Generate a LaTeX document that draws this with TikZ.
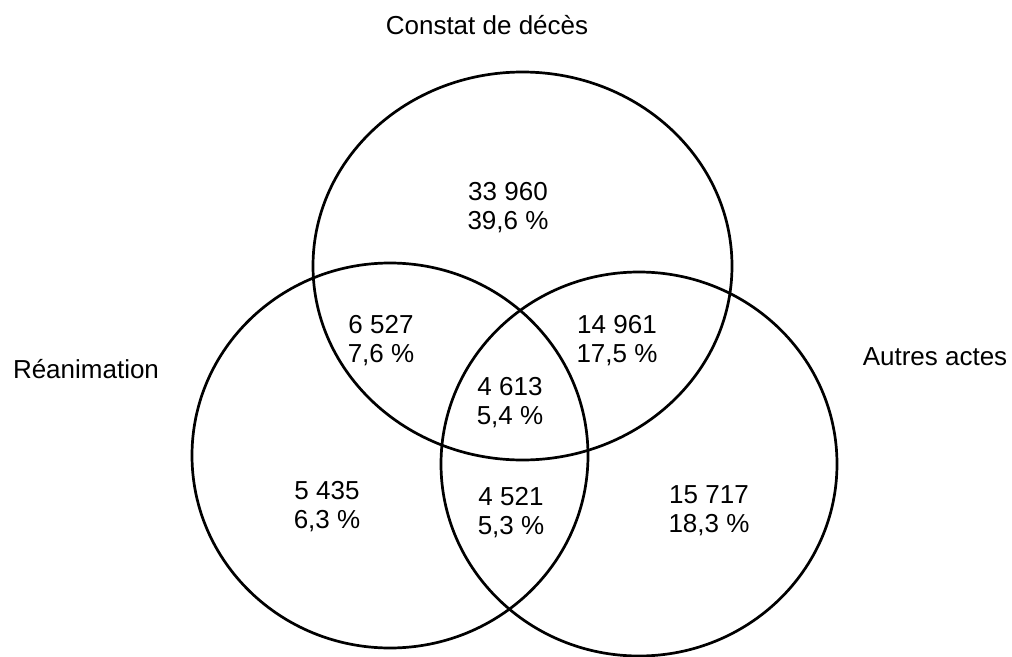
\documentclass[tikz,border=0pt]{standalone}
\usepackage{fontspec}
\setmainfont{Liberation Sans}
\usepackage{tikz}
\usetikzlibrary{positioning}
\tikzset{
  venn/.style={line width=2.7pt, black},
  setlbl/.style={font=\fontsize{26}{29}\selectfont, anchor=base},
  cnt/.style={font=\fontsize{26}{29}\selectfont, align=center}
}

\begin{document}
\begin{tikzpicture}[x=1pt, y=-1pt]
  \useasboundingbox (0,0) rectangle (1012,656);

  % Sets
  \draw[venn] (522.5,266) ellipse [x radius=209.5pt, y radius=194pt];
  \draw[venn] (390,455.5) ellipse [x radius=198pt, y radius=192.5pt];
  \draw[venn] (639,464) ellipse [x radius=198pt, y radius=192pt];

  % Set names
  \node[setlbl] (constat) at (487,34) {Constat de décès};
  \node[setlbl] (reanim) at (86,378) {Réanimation};
  \node[setlbl] (autres) at (935,365) {Autres actes};

  % Counts
  \node[cnt] (c) at (508,208) {33~960\\39,6~\%};
  \node[cnt] (cr) at (381,341) {6~527\\7,6~\%};
  \node[cnt] (ca) at (617,341) {14~961\\17,5~\%};
  \node[cnt] (cra) at (510,403) {4~613\\5,4~\%};
  \node[cnt] (r) at (327,507) {5~435\\6,3~\%};
  \node[cnt] (ra) at (511,513) {4~521\\5,3~\%};
  \node[cnt] (a) at (709,511) {15~717\\18,3~\%};
\end{tikzpicture}
\end{document}
